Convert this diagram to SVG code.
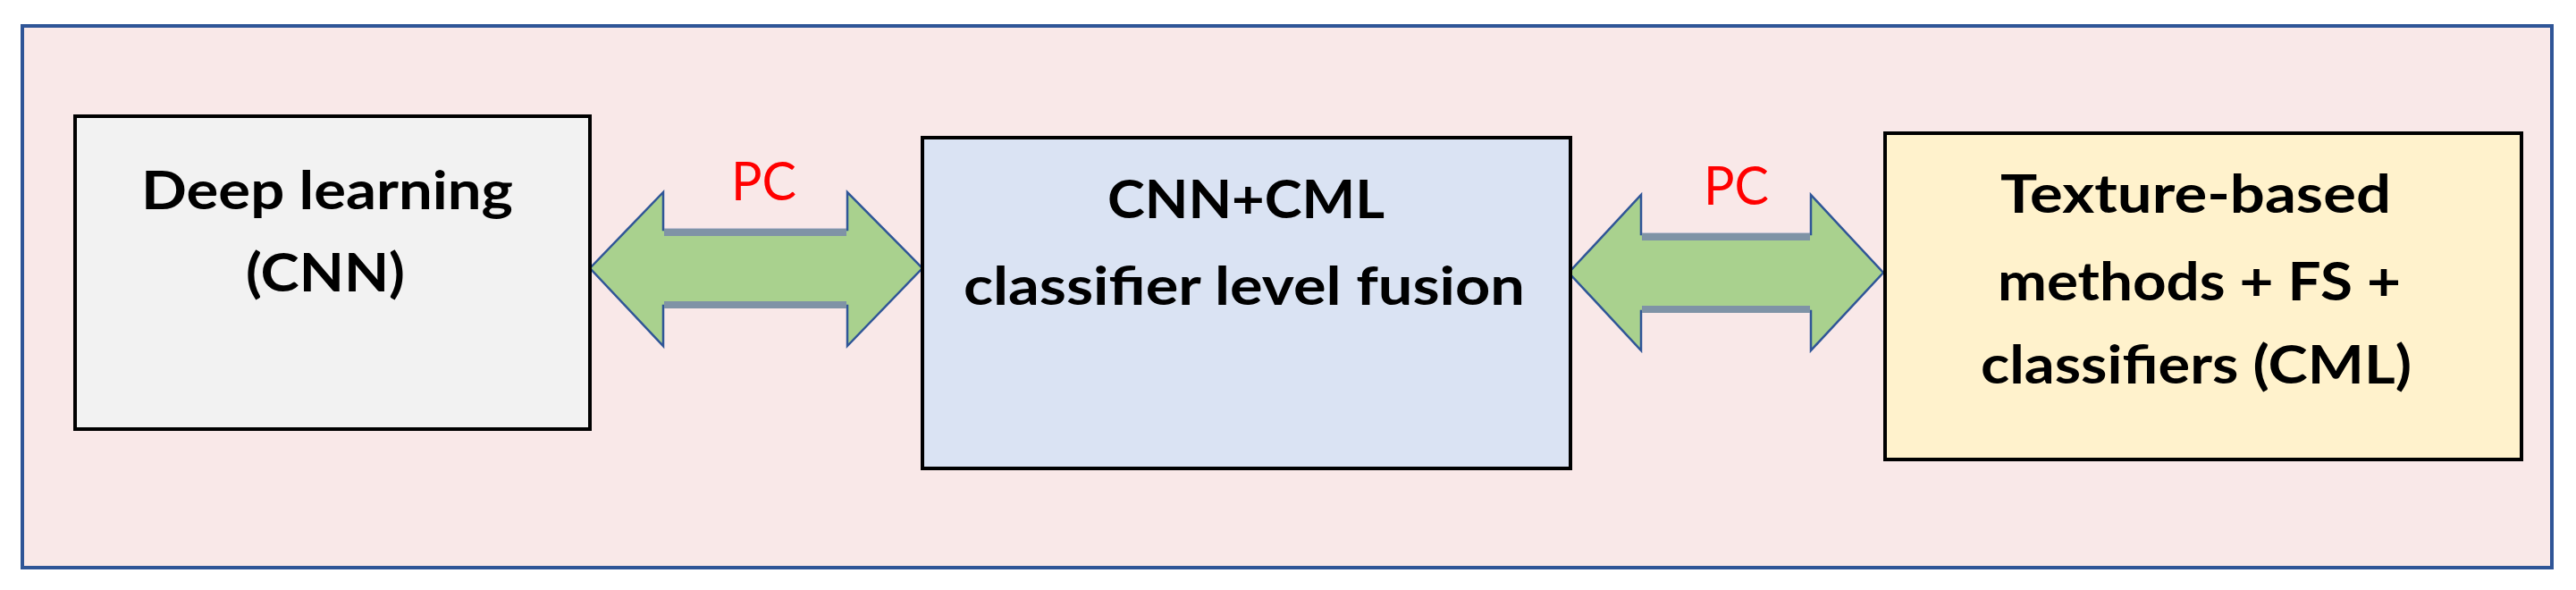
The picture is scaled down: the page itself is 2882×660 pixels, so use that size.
<svg xmlns="http://www.w3.org/2000/svg" width="2882" height="660" viewBox="0 0 2882 660">
<style>
.box{stroke:#000;stroke-width:4}
.lbl{font-family:Lato,"Open Sans","Liberation Sans",sans-serif;font-weight:bold;font-size:60px;fill:#000}
.pc{font-family:Lato,"Open Sans","Liberation Sans",sans-serif;font-size:60px;fill:#ff0000}
.arrow{fill:#a9d18e;stroke:#2f5597;stroke-width:2.5;stroke-linejoin:miter}
.band{fill:#7f93a6}
</style>
<rect width="2882" height="660" fill="#ffffff"/>
<g id="frame">
<rect x="25" y="29" width="2830" height="606" fill="#f9e8e8" stroke="#2f5597" stroke-width="4"/>
</g>
<g id="connectors">
<g id="arrow1">
<polygon class="arrow" points="660,300 742,215 742,257 948,257 948,215 1032,300 948,387 948,342 742,342 742,387"/>
<rect class="band" x="743" y="256" width="204" height="8"/>
<rect class="band" x="743" y="337" width="204" height="8"/>
<text class="pc" x="818" y="224" textLength="73" lengthAdjust="spacingAndGlyphs">PC</text>
</g>
<g id="arrow2">
<polygon class="arrow" points="1755,305 1836,218 1836,262 2026,262 2026,218 2107,305 2026,392 2026,348 1836,348 1836,392"/>
<rect class="band" x="1837" y="261" width="188" height="8"/>
<rect class="band" x="1837" y="342" width="188" height="8"/>
<text class="pc" x="1906" y="229" textLength="73" lengthAdjust="spacingAndGlyphs">PC</text>
</g>
</g>
<g id="node-deep">
<rect class="box" x="84" y="130" width="576" height="350" fill="#f2f2f2"/>
<text class="lbl" x="158" y="234" textLength="416" lengthAdjust="spacingAndGlyphs">Deep learning</text>
<text class="lbl" x="275" y="326" textLength="178" lengthAdjust="spacingAndGlyphs">(CNN)</text>
</g>
<g id="node-fusion">
<rect class="box" x="1032" y="154" width="725" height="370" fill="#dae3f3"/>
<text class="lbl" x="1239" y="244" textLength="310" lengthAdjust="spacingAndGlyphs">CNN+CML</text>
<text class="lbl" x="1078" y="341" textLength="628" lengthAdjust="spacingAndGlyphs">classifier level fusion</text>
</g>
<g id="node-texture">
<rect class="box" x="2109" y="149" width="712" height="365" fill="#fff2cc"/>
<text class="lbl" x="2238" y="238" textLength="437" lengthAdjust="spacingAndGlyphs">Texture-based</text>
<text class="lbl" x="2235" y="336" textLength="451" lengthAdjust="spacingAndGlyphs">methods + FS +</text>
<text class="lbl" x="2216" y="429" textLength="482" lengthAdjust="spacingAndGlyphs">classifiers (CML)</text>
</g>
</svg>
